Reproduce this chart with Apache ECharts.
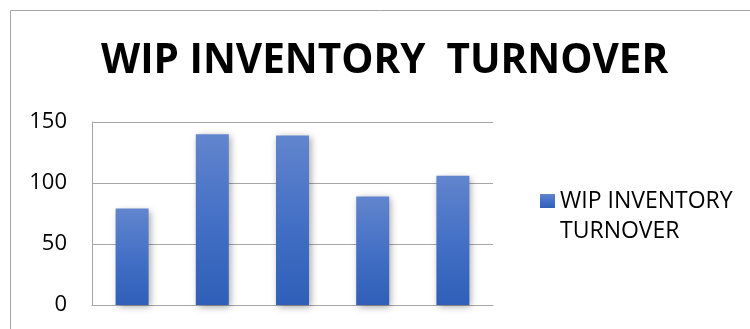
<!DOCTYPE html>
<html>
<head>
<meta charset="utf-8">
<script src="https://cdn.jsdelivr.net/npm/echarts@6/dist/echarts.min.js"></script>
<style>
  html, body { margin: 0; padding: 0; background: #ffffff; }
  #chart { width: 750px; height: 329px; }
</style>
</head>
<body>
<div id="chart"></div>
<script>
// Periods along the x axis (labels are not shown on this chart)
var categories = ['1', '2', '3', '4', '5'];
// WIP inventory turnover per period
var turnover = [79, 140, 139, 89, 106];
// Value axis ticks
var yTicks = [0, 50, 100, 150];

var chartTitle = 'WIP INVENTORY  TURNOVER';
var seriesName = 'WIP INVENTORY\nTURNOVER';

var barFill = new echarts.graphic.LinearGradient(0, 0, 0, 1, [
  { offset: 0, color: '#6285cd' },
  { offset: 0.5, color: '#4470c6' },
  { offset: 1, color: '#2f5fb8' }
]);

var chart = echarts.init(document.getElementById('chart'), null, { renderer: 'canvas' });

chart.setOption({
  backgroundColor: '#ffffff',
  animation: false,
  title: {
    text: chartTitle,
    left: 96,
    top: 36,
    textStyle: {
      fontFamily: 'Open Sans',
      fontWeight: 'bold',
      fontSize: 40.5,
      color: '#000000'
    }
  },
  graphic: [{
    type: 'rect',
    shape: { x: 10.5, y: 10.5, width: 760, height: 340 },
    style: { fill: 'none', stroke: '#a6a6a6', lineWidth: 1 },
    silent: true
  }],
  legend: {
    left: 535,
    top: 151,
    orient: 'vertical',
    itemWidth: 15,
    itemHeight: 14,
    icon: 'rect',
    // leading blank line keeps the marker level with the first text line
    formatter: function (name) { return '\n' + name; },
    textStyle: {
      fontFamily: 'Open Sans',
      fontSize: 23,
      color: '#000000',
      lineHeight: 30
    },
    data: [seriesName]
  },
  grid: {
    left: 92,
    top: 122,
    width: 401,
    height: 183,
    containLabel: false
  },
  xAxis: {
    type: 'category',
    data: categories,
    axisLine: { show: true, lineStyle: { color: '#a6a6a6', width: 1 } },
    axisTick: { show: false },
    axisLabel: { show: false }
  },
  yAxis: {
    type: 'value',
    min: yTicks[0],
    max: yTicks[yTicks.length - 1],
    interval: yTicks[1] - yTicks[0],
    axisLine: { show: true, lineStyle: { color: '#a6a6a6', width: 1 } },
    axisTick: { show: false },
    axisLabel: {
      margin: 25,
      fontFamily: 'Open Sans',
      fontSize: 22,
      color: '#000000',
      padding: [3, 0, 0, 0]
    },
    splitLine: { show: true, lineStyle: { color: '#a6a6a6', width: 1 } }
  },
  series: [{
    name: seriesName,
    type: 'bar',
    data: turnover,
    barWidth: 33,
    itemStyle: {
      color: barFill,
      shadowColor: 'rgba(0,0,0,0.35)',
      shadowBlur: 7,
      shadowOffsetX: 2,
      shadowOffsetY: 2
    }
  }]
});
</script>
</body>
</html>
